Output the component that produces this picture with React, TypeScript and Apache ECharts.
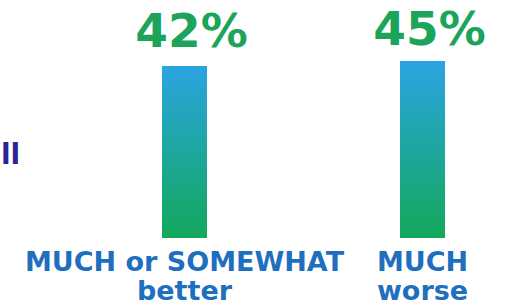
import React, { useEffect, useRef } from "react";
import * as echarts from "echarts";

const categories = ["MUCH or SOMEWHAT\nbetter", "MUCH\nworse"];
const values = [42, 45];
const sideText = "ll";

export default function App() {
  const ref = useRef<HTMLDivElement>(null);
  useEffect(() => {
    if (!ref.current) return;
    const chart = echarts.init(ref.current, null, { renderer: "svg" });
    const labelStyle = {
      show: true,
      position: "top",
      offset: [7, 0],
      formatter: "{c}%",
      color: "#1ba45a",
      fontFamily: "DejaVu Sans",
      fontWeight: "bold",
      fontSize: 47,
      lineHeight: 40,
    };
    chart.setOption({
      animation: false,
      backgroundColor: "#ffffff",
      grid: { left: 184.5, right: 90.5, top: 61, bottom: 70, containLabel: false },
      xAxis: {
        type: "category",
        data: categories,
        boundaryGap: false,
        axisLine: { show: false },
        axisTick: { show: false },
        axisLabel: {
          interval: 0,
          color: "#1f6fbf",
          fontFamily: "DejaVu Sans",
          fontWeight: "bold",
          fontSize: 27,
          lineHeight: 29,
          margin: 9,
        },
      },
      yAxis: {
        type: "value",
        min: -61,
        max: 45,
        startValue: -61,
        show: false,
        splitLine: { show: false },
      },
      graphic: [
        {
          type: "text",
          left: 1,
          top: 140,
          style: {
            text: sideText,
            fill: "#2a2592",
            fontFamily: "DejaVu Sans",
            fontWeight: "bold",
            fontSize: 28,
          },
        },
      ],
      series: [
        {
          type: "bar",
          data: [
            { value: values[0], label: { ...labelStyle, distance: 16 } },
            { value: values[1], label: { ...labelStyle, distance: 13 } },
          ],
          barWidth: 45,
          itemStyle: {
            color: new echarts.graphic.LinearGradient(0, 0, 0, 1, [
              { offset: 0, color: "#2aa4e2" },
              { offset: 1, color: "#13a85b" },
            ]),
          },
          label: labelStyle,
        },
      ],
    });
    return () => chart.dispose();
  }, []);
  return <div ref={ref} style={{ width: 513, height: 308, position: "fixed", left: 0, top: 0 }} />;
}
